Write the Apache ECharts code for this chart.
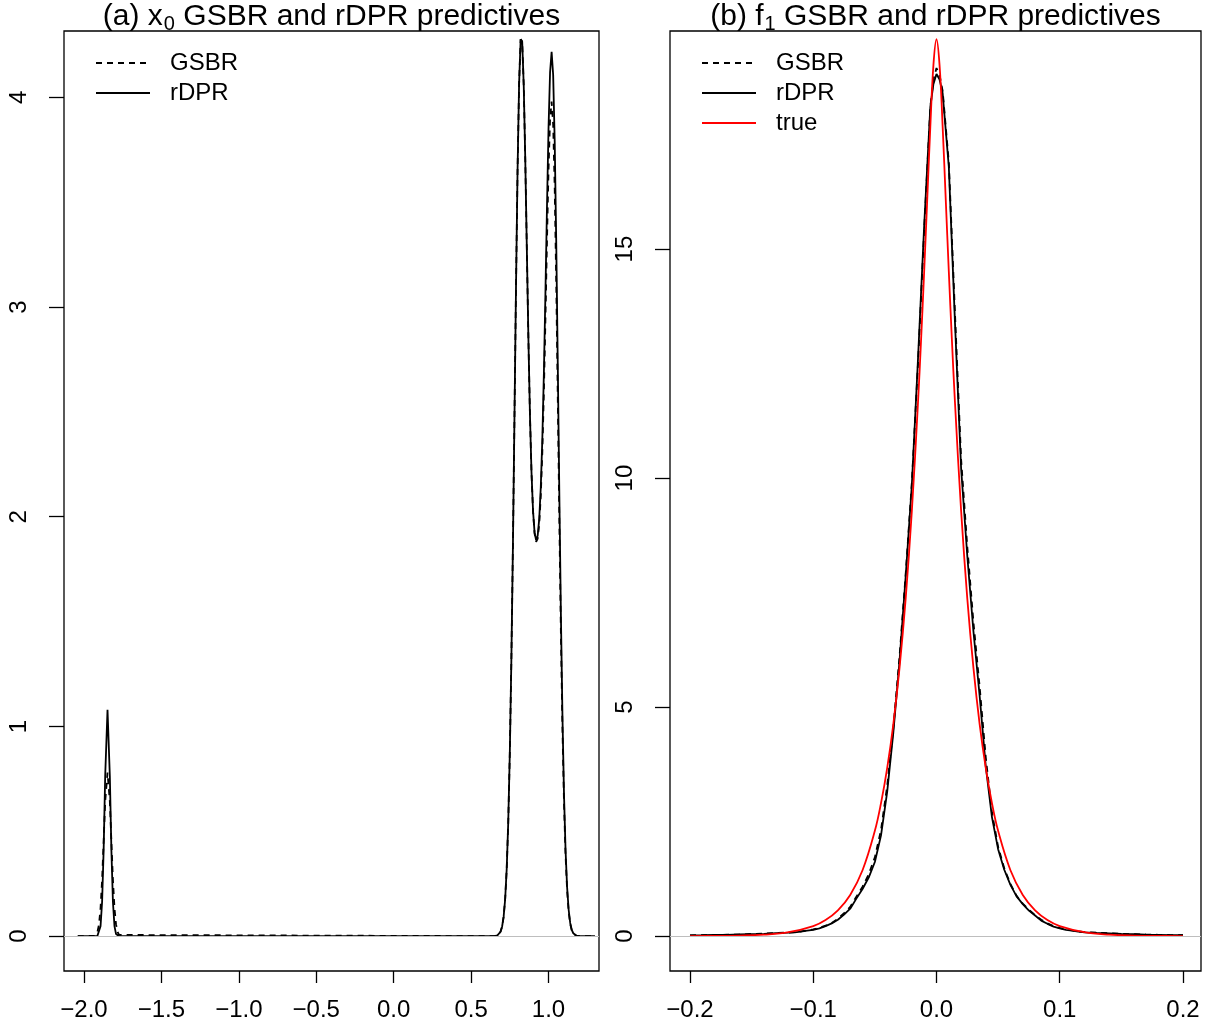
<!DOCTYPE html>
<html>
<head>
<meta charset="utf-8">
<script src="https://cdn.jsdelivr.net/npm/echarts@6/dist/echarts.min.js"></script>
<style>
html,body{margin:0;padding:0;background:#fff;}
#chart{width:1208px;height:1026px;}
</style>
</head>
<body>
<div id="chart"></div>
<script>
// ---------- Panel (a): x0 predictive densities ----------
const x0X = [-2.04,
  -1.933,-1.923,-1.913,-1.903,-1.893,-1.883,-1.873,-1.863,-1.848,-1.833,-1.823,-1.813,-1.803,-1.793,-1.783,-1.773,-1.763,
  0.63,0.64,0.65,0.66,0.67,0.68,0.69,0.70,0.71,0.72,0.73,0.74,0.75,0.76,0.77,0.78,0.79,0.80,0.81,0.82,
  0.83,0.84,0.85,0.86,0.87,0.88,0.89,0.90,0.91,0.92,0.93,0.94,0.95,0.96,0.97,0.98,0.99,1.00,1.01,1.02,
  1.03,1.04,1.05,1.06,1.07,1.08,1.09,1.10,1.11,1.12,1.13,1.14,1.15,1.16,1.17,1.18,1.19,1.20,1.21,
  1.30];
const x0rDPR = [0,
  0,0.0002,0.0016,0.010,0.048,0.163,0.411,0.764,1.08,0.764,0.411,0.163,0.048,0.010,0.0016,0.0002,0,
  0,0,0.0004,0.0013,0.004,0.009,0.021,0.045,0.092,0.177,0.321,0.546,0.873,1.313,1.856,2.470,3.093,3.651,4.064,4.276,
  4.266,4.055,3.699,3.275,2.852,2.489,2.213,2.028,1.924,1.888,1.910,1.990,2.140,2.371,2.684,3.064,3.475,3.851,4.119,4.217,
  4.106,3.787,3.301,2.712,2.098,1.530,1.049,0.676,0.410,0.234,0.126,0.063,0.030,0.014,0.006,0.002,0.001,0,0,
  0];
const x0GSBR = [0,
  0.0015,0.006,0.020,0.056,0.134,0.269,0.453,0.642,0.78,0.642,0.453,0.269,0.134,0.056,0.020,0.006,0.0015,
  0,0,0.0004,0.0013,0.004,0.009,0.021,0.045,0.092,0.177,0.321,0.546,0.873,1.313,1.856,2.470,3.093,3.651,4.064,4.276,
  4.266,4.055,3.699,3.275,2.852,2.489,2.212,2.026,1.920,1.880,1.896,1.965,2.099,2.307,2.591,2.937,3.311,3.654,3.895,3.979,
  3.868,3.563,3.104,2.548,1.971,1.437,0.985,0.635,0.385,0.220,0.118,0.059,0.028,0.013,0.006,0.002,0.001,0,0,
  0];
const x0TicksX = [-2.0,-1.5,-1.0,-0.5,0.0,0.5,1.0];
const x0TicksY = [0,1,2,3,4];

// ---------- Panel (b): f1 predictive densities ----------
const f1X = [-0.20,-0.19,-0.18,-0.17,-0.16,-0.15,-0.14,-0.13,-0.12,-0.115,-0.11,-0.105,-0.10,-0.095,-0.09,-0.085,-0.08,-0.075,-0.07,-0.065,-0.06,-0.055,-0.05,-0.045,-0.04,-0.035,-0.03,-0.025,-0.02,-0.015,-0.01,-0.005,-0.0025,
  0,
  0.0025,0.005,0.01,0.015,0.02,0.025,0.03,0.035,0.04,0.045,0.05,0.055,0.06,0.065,0.07,0.075,0.08,0.085,0.09,0.095,0.10,0.105,0.11,0.115,0.12,0.13,0.14,0.15,0.16,0.17,0.18,0.19,0.20];
const f1rDPR = [0.015,0.02,0.028,0.03,0.038,0.045,0.052,0.065,0.078,0.085,0.10,0.12,0.14,0.17,0.22,0.28,0.36,0.47,0.60,0.82,1.03,1.28,1.62,2.20,3.15,4.45,6.0,7.85,9.85,12.6,15.5,18.1,18.6,
  18.82,
  18.7,18.4,16.8,13.4,10.2,8.3,6.65,5.25,3.7,2.6,1.9,1.45,1.12,0.87,0.70,0.56,0.45,0.34,0.27,0.21,0.17,0.14,0.12,0.10,0.085,0.07,0.06,0.048,0.042,0.035,0.03,0.025,0.02];
const f1GSBR = [0.018,0.022,0.025,0.032,0.036,0.048,0.055,0.068,0.08,0.09,0.105,0.125,0.15,0.18,0.23,0.29,0.38,0.50,0.64,0.86,1.08,1.35,1.72,2.32,3.28,4.55,6.1,7.9,9.9,12.5,15.4,18.1,18.7,
  18.95,
  18.8,18.45,16.9,13.6,10.4,8.5,6.85,5.45,3.9,2.7,1.95,1.48,1.14,0.88,0.71,0.58,0.46,0.36,0.28,0.22,0.18,0.15,0.125,0.105,0.09,0.075,0.062,0.05,0.044,0.036,0.03,0.024,0.02];
const f1TrueX = [-0.20,-0.18,-0.16,-0.14,-0.12,-0.10,-0.09,-0.08,-0.07,-0.06,-0.05,-0.045,-0.04,-0.035,-0.03,-0.025,-0.02,-0.015,-0.0125,-0.01,-0.0075,-0.005,-0.0025,
  0,
  0.0025,0.005,0.0075,0.01,0.0125,0.015,0.02,0.025,0.03,0.035,0.04,0.045,0.05,0.06,0.07,0.08,0.09,0.10,0.12,0.14,0.16,0.18,0.20];
const f1True = [0.0020,0.0051,0.0132,0.0337,0.0862,0.2205,0.353,0.564,0.901,1.439,2.300,2.906,3.67,4.63,5.85,7.37,9.28,11.65,13.02,14.51,16.09,17.67,19.01,
  19.58,
  19.01,17.67,16.09,14.51,13.02,11.65,9.28,7.37,5.85,4.63,3.67,2.906,2.300,1.439,0.901,0.564,0.353,0.2205,0.0862,0.0337,0.0132,0.0051,0.0020];
const f1TicksX = [-0.2,-0.1,0.0,0.1,0.2];
const f1TicksY = [0,5,10,15];

const seriesNames = ['GSBR','rDPR','true'];
const panelTitles = ['(a) x{sub|0} GSBR and rDPR predictives','(b) f{sub|1} GSBR and rDPR predictives'];

// ---------- build ----------
const FONT = '"Liberation Sans", Arial, Helvetica, sans-serif';
const pairs = (xs, ys) => xs.map((x, i) => [x, ys[i]]);
const fmtX = v => (v < 0 ? '\u2212' : '') + Math.abs(v).toFixed(1);
const fmtY = v => String(v);

const chart = echarts.init(document.getElementById('chart'), null, {renderer: 'canvas'});

function xAxisDef(gi, min, max, ticks) {
  return {
    type: 'value', gridIndex: gi, min: min, max: max, position: 'bottom',
    axisLine: {show: false, onZero: false},
    splitLine: {show: false},
    axisTick: {show: true, customValues: ticks, length: 12, lineStyle: {color: '#000', width: 1.3}},
    axisLabel: {show: true, customValues: ticks, formatter: fmtX, fontSize: 24, color: '#000', fontFamily: FONT, margin: 27}
  };
}
function yAxisDef(gi, min, max, ticks) {
  return {
    type: 'value', gridIndex: gi, min: min, max: max, position: 'left',
    axisLine: {show: false, onZero: false},
    splitLine: {show: false},
    axisTick: {show: true, customValues: ticks, length: 15, lineStyle: {color: '#000', width: 1.3}},
    axisLabel: {show: true, customValues: ticks, formatter: fmtY, fontSize: 24, color: '#000', fontFamily: FONT, margin: 33, rotate: 90}
  };
}
const zeroSeries = (gi) => ({
  name: 'zero', type: 'line', xAxisIndex: gi, yAxisIndex: gi, data: [], z: 1, silent: true,
  markLine: {silent: true, symbol: ['none','none'], label: {show: false},
    lineStyle: {color: '#bebebe', type: 'solid', width: 1.2},
    data: [{yAxis: 0}]}
});
const lineSeries = (name, gi, data, color, dashed, smooth) => ({
  name: name, type: 'line', xAxisIndex: gi, yAxisIndex: gi, data: data,
  symbol: 'none', showSymbol: false, smooth: smooth || false, z: 3,
  lineStyle: {color: color, width: 1.8, type: dashed ? [6, 5] : 'solid'},
  itemStyle: {color: color},
  emphasis: {disabled: true}
});
const titleDef = (text, cx) => ({
  text: text, left: cx, top: 0, textAlign: 'center', padding: 0,
  textStyle: {fontSize: 30, fontWeight: 'normal', color: '#000', fontFamily: FONT, lineHeight: 34,
    rich: {sub: {fontSize: 20, fontFamily: FONT, color: '#000', lineHeight: 20, padding: [15, 0, 0, 1]}}}
});
const legendDef = (names, left) => ({
  data: names, orient: 'vertical', left: left, top: 46,
  itemWidth: 54, itemHeight: 14, itemGap: 6, selectedMode: false,
  itemStyle: {color: 'rgba(0,0,0,0)', opacity: 0, borderWidth: 0},
  textStyle: {fontSize: 24, color: '#000', fontFamily: FONT, lineHeight: 24, padding: [0, 0, 0, 15]}
});

const option = {
  animation: false,
  backgroundColor: '#fff',
  title: [titleDef(panelTitles[0], 331.5), titleDef(panelTitles[1], 935.5)],
  legend: [legendDef(seriesNames.slice(0, 2), 90), legendDef(seriesNames, 696)],
  grid: [
    {left: 64, top: 31, width: 535, height: 940, show: true, borderColor: '#000', borderWidth: 1.3, backgroundColor: 'transparent', containLabel: false},
    {left: 670, top: 31, width: 531, height: 940, show: true, borderColor: '#000', borderWidth: 1.3, backgroundColor: 'transparent', containLabel: false}
  ],
  xAxis: [xAxisDef(0, -2.129, 1.326, x0TicksX), xAxisDef(1, -0.2162, 0.2146, f1TicksX)],
  yAxis: [yAxisDef(0, -0.166, 4.316, x0TicksY), yAxisDef(1, -0.76, 19.76, f1TicksY)],
  series: [
    zeroSeries(0),
    lineSeries(seriesNames[1], 0, pairs(x0X, x0rDPR), '#000', false),
    lineSeries(seriesNames[0], 0, pairs(x0X, x0GSBR), '#000', true),
    zeroSeries(1),
    lineSeries(seriesNames[1], 1, pairs(f1X, f1rDPR), '#000', false),
    lineSeries(seriesNames[0], 1, pairs(f1X, f1GSBR), '#000', true),
    lineSeries(seriesNames[2], 1, pairs(f1TrueX, f1True), '#ff0000', false, 0.4)
  ]
};
chart.setOption(option);
</script>
</body>
</html>
